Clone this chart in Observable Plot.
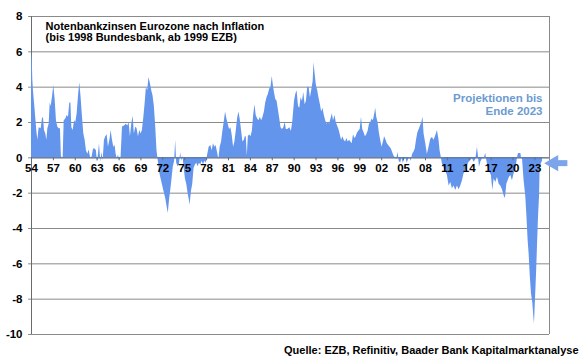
<!DOCTYPE html>
<html><head><meta charset="utf-8">
<script src="https://cdn.jsdelivr.net/npm/d3@7"></script>
<script src="https://cdn.jsdelivr.net/npm/@observablehq/plot@0.6"></script>
<style>
body{margin:0;background:#fff}
#chart svg{display:block}
</style>
</head><body><div id="chart"></div>
<script>
const years = [
 1954.0,1954.1,1954.18,1954.27,1954.5,1954.73,1954.87,1955.05,1955.32,1955.5,1955.64,1955.78,1955.96,
 1956.1,1956.24,1956.42,1956.56,1956.69,1956.88,1957.06,1957.24,1957.42,1957.6,1957.79,1957.97,
 1958.1,1958.34,1958.48,1958.7,1958.89,1959.07,1959.25,1959.4,1959.53,1959.71,1959.9,1960.07,
 1960.26,1960.44,1960.62,1960.8,1960.99,1961.17,1961.35,1961.53,1961.72,1961.9,1962.08,1962.26,
 1962.5,1962.72,1962.9,1963.04,1963.18,1963.32,1963.5,1963.63,1963.82,1964.0,1964.18,1964.37,
 1964.55,1964.78,1964.91,1965.1,1965.28,1965.46,1965.6,1965.74,1965.92,1966.1,1966.28,1966.47,
 1966.74,1967.0,1967.2,1967.38,1967.56,1967.74,1967.93,1968.1,1968.3,1968.47,1968.66,1968.84,
 1969.02,1969.2,1969.4,1969.57,1969.75,1969.93,1970.1,1970.3,1970.48,1970.66,1970.84,1971.03,
 1971.2,1971.4,1971.6,
 1971.93,1972.16,1972.4,1972.6,1972.75,1972.94,1973.07,1973.26,1973.44,1973.62,1973.76,1973.9,
 1974.08,1974.27,1974.45,1974.59,1974.77,1974.9,1975.1,1975.28,1975.46,1975.64,1975.73,1975.92,
 1976.1,1976.28,1976.47,1976.65,1976.83,1977.02,1977.2,1977.39,1977.57,1977.75,1977.94,1978.12,
 1978.35,1978.58,1978.76,1978.94,1979.13,1979.3,1979.5,1979.68,1979.86,1980.05,1980.23,1980.41,
 1980.6,1980.78,1980.96,1981.15,1981.33,1981.5,1981.7,1981.88,1982.06,1982.24,1982.43,1982.6,
 1982.8,1982.98,1983.17,1983.3,1983.44,1983.58,1983.72,1983.9,1984.08,1984.27,1984.45,1984.63,
 1984.8,1985.0,1985.18,1985.37,1985.55,1985.73,1985.92,1986.1,1986.28,1986.47,1986.65,1986.83,
 1987.0,1987.15,1987.3,1987.48,1987.66,1987.85,1988.03,1988.2,1988.4,1988.58,1988.76,1988.94,
 1989.13,1989.4,1989.62,
 1989.8,1990.05,1990.23,1990.4,1990.6,1990.77,1990.95,1991.14,1991.32,1991.5,1991.68,1991.86,
 1992.05,1992.23,1992.4,1992.6,1992.73,1992.86,1993.05,1993.23,1993.4,1993.6,1993.77,1993.95,
 1994.14,1994.32,1994.5,1994.68,1994.86,1995.05,1995.23,1995.4,1995.6,1995.77,1995.95,1996.14,
 1996.32,1996.5,1996.68,1996.86,1997.05,1997.23,1997.4,1997.6,1997.77,1997.95,1998.14,1998.32,
 1998.5,1998.68,1998.86,1999.05,1999.23,1999.4,1999.6,1999.77,1999.95,2000.14,2000.32,2000.5,
 2000.68,2000.86,2001.05,2001.18,2001.32,2001.5,2001.68,2001.86,2002.05,2002.23,2002.4,2002.6,
 2002.77,2002.95,2003.14,2003.32,2003.5,2003.68,2003.86,2004.05,2004.23,2004.4,2004.6,2004.77,
 2004.95,2005.14,2005.32,2005.5,2005.68,2005.86,2006.05,2006.23,2006.4,2006.6,2006.77,2006.95,
 2007.14,2007.32,2007.5,2007.66,
 2007.81,2008.04,2008.26,2008.49,2008.72,2008.95,2009.18,2009.41,2009.64,2009.86,2010.0,2010.18,
 2010.32,2010.55,2010.78,2011.01,2011.24,2011.47,2011.69,2011.92,2012.15,2012.38,2012.61,2012.84,
 2013.07,2013.29,2013.52,2013.75,2013.98,2014.21,2014.44,2014.67,2014.9,2015.12,2015.26,2015.4,
 2015.58,2015.81,2016.04,2016.27,2016.4,2016.59,2016.82,2017.04,2017.23,2017.41,2017.64,2017.87,
 2018.1,2018.32,2018.55,2018.78,2018.96,2019.15,2019.33,2019.51,2019.7,2019.92,2020.15,2020.38,
 2020.61,2020.75,2021.07,2021.16,2021.3,2021.52,2021.75,2021.89,2022.07,2022.21,2022.35,2022.53,
 2022.71,2022.85,2022.94,2023.08,2023.22,2023.35,2023.49,2023.63,2023.72,2023.9,2024.04
];
const values = [
 6.0,5.6,4.4,3.8,2.7,1.5,1.0,1.7,1.65,2.2,2.3,1.55,1.35,
 1.0,1.65,1.9,3.1,2.9,3.45,4.1,3.3,2.1,1.75,1.65,1.65,
 0.05,0.0,2.1,2.2,2.4,2.3,3.1,3.1,1.7,1.55,2.1,2.0,
 2.5,3.5,4.25,3.4,2.3,1.35,1.0,0.4,0.2,0.45,0.05,-0.05,
 0.5,0.5,0.4,-0.25,0.2,0.8,-0.25,0.3,-0.15,1.0,1.2,1.3,
 0.6,1.1,1.55,1.0,0.6,0.7,0.2,-0.05,0.15,-0.15,0.05,1.75,
 1.8,1.9,1.8,2.0,1.2,1.9,2.35,1.35,1.75,1.65,1.2,1.55,
 1.35,1.55,2.3,3.05,4.0,3.8,4.55,4.2,3.8,3.5,2.9,1.75,
 0.4,-0.25,-0.9,
 -1.5,-1.9,-2.3,-2.8,-3.15,-2.3,-1.9,-1.2,-0.5,-0.2,1.0,-0.3,
 -0.5,-0.4,0.3,-0.2,0.1,-0.5,-1.2,-1.5,-2.0,-2.4,-2.7,-1.9,
 -1.5,-0.6,-0.4,-0.3,-0.5,-0.3,-0.4,-0.2,-0.4,-0.2,-0.3,0.1,
 0.6,0.7,0.4,0.8,0.6,0.7,0.3,-0.1,0.6,0.9,1.5,2.0,
 2.6,2.2,1.9,1.6,1.7,1.3,0.6,0.9,1.5,2.2,2.6,2.2,
 1.5,0.9,1.0,1.2,1.2,0.1,1.2,1.3,1.2,1.5,2.4,3.0,
 2.4,2.2,2.1,2.3,2.1,2.3,2.6,3.1,3.4,3.6,3.9,4.0,
 4.6,4.1,3.7,3.3,3.2,2.7,2.2,1.7,1.6,1.7,2.0,1.6,
 1.6,1.7,1.5,
 2.0,3.2,3.6,3.8,2.9,2.8,3.4,3.2,3.7,3.0,3.2,4.0,
 4.0,3.4,3.8,4.3,5.4,4.8,4.1,3.8,3.4,3.0,2.6,2.8,
 2.4,2.1,1.9,2.0,1.9,2.2,2.5,2.1,2.4,2.0,1.8,1.6,
 1.3,1.0,1.2,1.0,0.9,1.1,0.9,1.0,0.9,0.8,1.3,1.1,
 1.2,1.4,1.5,1.6,2.3,1.6,1.4,1.2,1.3,1.5,1.9,2.0,
 2.2,2.1,2.5,2.8,2.3,2.0,1.4,1.0,0.6,0.9,1.2,1.0,
 0.8,0.7,0.6,0.5,0.3,0.1,0.0,-0.1,0.3,-0.2,-0.3,0.0,
 -0.3,-0.1,0.0,-0.3,-0.1,0.0,-0.2,0.2,0.3,0.5,1.0,1.4,
 1.6,1.8,2.0,2.3,
 1.35,0.8,0.2,0.6,1.05,1.15,1.0,1.25,1.55,1.0,0.4,0.0,
 -0.35,-0.55,-0.75,-1.0,-1.6,-1.4,-1.75,-1.6,-1.85,-1.6,-1.8,-1.6,
 -1.3,-0.9,-0.75,-0.45,-0.25,-0.15,-0.05,-0.25,-0.1,0.6,0.1,-0.55,
 -0.25,-0.05,-0.05,0.25,-0.15,-0.55,-0.8,-1.0,-1.85,-1.2,-1.4,-1.1,
 -1.5,-1.6,-1.8,-2.15,-2.3,-1.5,-1.3,-1.1,-1.0,-1.3,-0.9,-0.7,
 0.0,0.25,0.25,0.0,-0.05,-1.3,-2.2,-3.2,-4.7,-5.45,-6.6,-7.7,
 -8.2,-9.0,-9.4,-8.0,-6.6,-5.05,-3.4,-2.2,-0.55,-0.3,-0.2
];
const yTicks = [-10,-8,-6,-4,-2,0,2,4,6,8];
const xTicks = d3.range(1954, 2024, 3);
const xDomain = [1954, 2025];
const yDomain = [-10, 8];
const title = "Notenbankzinsen Eurozone nach Inflation\n(bis 1998 Bundesbank, ab 1999 EZB)";
const note = "Projektionen bis\nEnde 2023";
const source = "Quelle: EZB, Refinitiv, Baader Bank Kapitalmarktanalyse";
const arrowLevel = -0.3;
const arrowSpan = [2025.9, 2027.45];
const arrowTip = 2025.55;

const data = years.map((y, i) => ({year: y, value: values[i]}));
const font = "'Liberation Sans', Arial, sans-serif";
const blue = "#6495ED";

const chart = Plot.plot({
  width: 580,
  height: 358,
  marginTop: 16,
  marginBottom: 24,
  marginLeft: 31,
  marginRight: 31,
  style: {fontFamily: font, background: "#fff", overflow: "visible"},
  x: {domain: xDomain, axis: null},
  y: {domain: yDomain, axis: null},
  marks: [
    Plot.ruleY(yTicks, {y: d => d, x1: 1953.6, x2: xDomain[1], stroke: "#8a8a8a", strokeWidth: 1}),
    Plot.ruleX([xDomain[0]], {stroke: "#6b6b6b", strokeWidth: 1}),
    Plot.ruleX([xDomain[1]], {stroke: "#8a8a8a", strokeWidth: 1}),
    Plot.areaY(data, {x: "year", y: "value", fill: blue}),
    Plot.ruleY([0], {x1: xDomain[0], x2: xDomain[1], stroke: "#5a6f90", strokeWidth: 1}),
    Plot.ruleX(xTicks, {x: d => d, y1: 0, y2: -0.17, stroke: "#5a6f90"}),
    Plot.text(xTicks, {x: d => d, y: 0, dy: 10, text: d => String(d % 100).padStart(2, "0"),
      fontWeight: "bold", fontSize: 11.5, fill: "#000"}),
    Plot.text(yTicks, {y: d => d, frameAnchor: "left", dx: -9, textAnchor: "end",
      text: d => String(d), fontWeight: "bold", fontSize: 11.5, fill: "#000"}),
    Plot.text([title], {frameAnchor: "top-left", dx: 14, dy: 15, lineAnchor: "middle",
      textAnchor: "start", lineHeight: 1.0, fontSize: 11, fontWeight: "bold", fill: "#000"}),
    Plot.text([note], {frameAnchor: "top-right", dx: -7, dy: 88, lineAnchor: "middle",
      textAnchor: "end", lineHeight: 1.12, fontSize: 11.5, fontWeight: "bold", fill: "#6C9BD2"}),
    Plot.text([source], {frameAnchor: "bottom-right", dx: 29, dy: 16, lineAnchor: "middle",
      textAnchor: "end", fontSize: 11, fontWeight: "bold", fill: "#000"}),
    Plot.link([0], {x1: arrowSpan[0], x2: arrowSpan[1], y1: arrowLevel, y2: arrowLevel,
      stroke: "#7BA4EA", strokeWidth: 6}),
    Plot.dot([0], {x: arrowTip, y: arrowLevel, symbol: "triangle", r: 6, rotate: -90,
      fill: "#7BA4EA", stroke: "none"})
  ]
});
document.getElementById("chart").appendChild(chart);
</script>
</body></html>
